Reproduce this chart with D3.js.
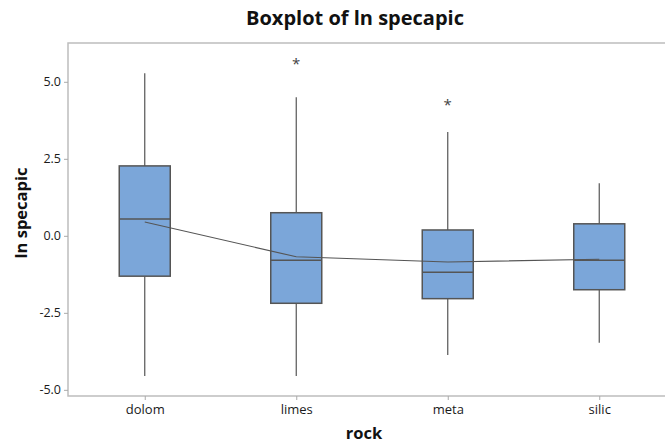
<!DOCTYPE html>
<html>
<head>
<meta charset="utf-8">
<script src="https://cdn.jsdelivr.net/npm/d3@7"></script>
<style>
  html, body { margin: 0; padding: 0; background: #fff; }
  svg { display: block; }
  text { font-family: "Open Sans", "DejaVu Sans", sans-serif; }
</style>
</head>
<body>
<svg id="chart" width="665" height="443"></svg>
<script>
// Box summaries of ln specapic by rock type
const rocks    = ["dolom", "limes", "meta", "silic"];
const q1       = [-1.31, -2.19, -2.04, -1.75];
const medians  = [0.55, -0.79, -1.18, -0.79];
const q3       = [2.27, 0.75, 0.19, 0.39];
const whiskLo  = [-4.55, -4.55, -3.87, -3.47];
const whiskHi  = [5.28, 4.50, 3.37, 1.71];
const means    = [0.45, -0.68, -0.85, -0.76];
const outliers = [[], [5.63], [4.31], []];
const yTicks   = [-5.0, -2.5, 0.0, 2.5, 5.0];

const svg = d3.select("#chart");
const margin = { left: 68, top: 43, bottom: 396, right: 674 };

const x = d3.scalePoint()
  .domain(rocks)
  .range([margin.left + 1, margin.right + 1])
  .padding(0.5);

const y = d3.scaleLinear()
  .domain([-5.2, 6.26])
  .range([margin.bottom, margin.top]);

const boxW = 51;
const ink = "#555";

// plot frame
svg.append("rect")
  .attr("x", margin.left).attr("y", margin.top)
  .attr("width", margin.right - margin.left)
  .attr("height", margin.bottom - margin.top)
  .attr("fill", "none").attr("stroke", "#bdbdbd").attr("stroke-width", 1.5);

// y axis (plain hyphen for negatives)
const fmt = d3.format(".1f");
const yAxis = d3.axisLeft(y).tickValues(yTicks)
  .tickFormat(d => fmt(d).replace("\u2212", "-"))
  .tickSize(4).tickPadding(3);
const gy = svg.append("g").attr("transform", `translate(${margin.left},0)`).call(yAxis);
gy.select(".domain").remove();
gy.selectAll(".tick line").attr("stroke", "#aaa");
gy.selectAll(".tick text").attr("fill", "#1a1a1a").style("font-size", "12.5px");

// x axis
const xAxis = d3.axisBottom(x).tickSize(4).tickPadding(5);
const gx = svg.append("g").attr("transform", `translate(0,${margin.bottom})`).call(xAxis);
gx.select(".domain").remove();
gx.selectAll(".tick line").attr("stroke", "#aaa");
gx.selectAll(".tick text").attr("fill", "#1a1a1a").style("font-size", "13px");

const data = rocks.map((r, i) => ({
  rock: r, q1: q1[i], med: medians[i], q3: q3[i],
  lo: whiskLo[i], hi: whiskHi[i], mean: means[i], out: outliers[i]
}));

const g = svg.append("g");

// whiskers
g.selectAll(".whisk-hi").data(data).join("line")
  .attr("x1", d => x(d.rock)).attr("x2", d => x(d.rock))
  .attr("y1", d => y(d.q3)).attr("y2", d => y(d.hi))
  .attr("stroke", ink).attr("stroke-width", 1.2);
g.selectAll(".whisk-lo").data(data).join("line")
  .attr("x1", d => x(d.rock)).attr("x2", d => x(d.rock))
  .attr("y1", d => y(d.q1)).attr("y2", d => y(d.lo))
  .attr("stroke", ink).attr("stroke-width", 1.2);

// boxes
g.selectAll(".box").data(data).join("rect")
  .attr("x", d => x(d.rock) - boxW / 2)
  .attr("y", d => y(d.q3))
  .attr("width", boxW)
  .attr("height", d => y(d.q1) - y(d.q3))
  .attr("fill", "#7ba6d9").attr("stroke", ink).attr("stroke-width", 1.5);

// medians
g.selectAll(".median").data(data).join("line")
  .attr("x1", d => x(d.rock) - boxW / 2).attr("x2", d => x(d.rock) + boxW / 2)
  .attr("y1", d => y(d.med)).attr("y2", d => y(d.med))
  .attr("stroke", ink).attr("stroke-width", 1.5);

// mean connect line
g.append("path")
  .datum(data)
  .attr("d", d3.line().x(d => x(d.rock)).y(d => y(d.mean)))
  .attr("fill", "none").attr("stroke", ink).attr("stroke-width", 1.1);

// outliers
data.forEach(d => {
  g.selectAll(null).data(d.out).join("text")
    .attr("x", x(d.rock)).attr("y", v => y(v) + 7)
    .attr("text-anchor", "middle")
    .attr("fill", "#444").style("font-size", "15px")
    .text("*");
});

// titles
svg.append("text")
  .attr("x", 355).attr("y", 25)
  .attr("text-anchor", "middle")
  .style("font-size", "20px").style("font-weight", "bold").attr("fill", "#111")
  .text("Boxplot of ln specapic");

svg.append("text")
  .attr("x", 364).attr("y", 439)
  .attr("text-anchor", "middle")
  .style("font-size", "16.5px").style("font-weight", "bold").attr("fill", "#111")
  .text("rock");

svg.append("text")
  .attr("transform", "translate(27,213) rotate(-90)")
  .attr("text-anchor", "middle")
  .style("font-size", "16.5px").style("font-weight", "bold").attr("fill", "#111")
  .text("ln specapic");
</script>
</body>
</html>
